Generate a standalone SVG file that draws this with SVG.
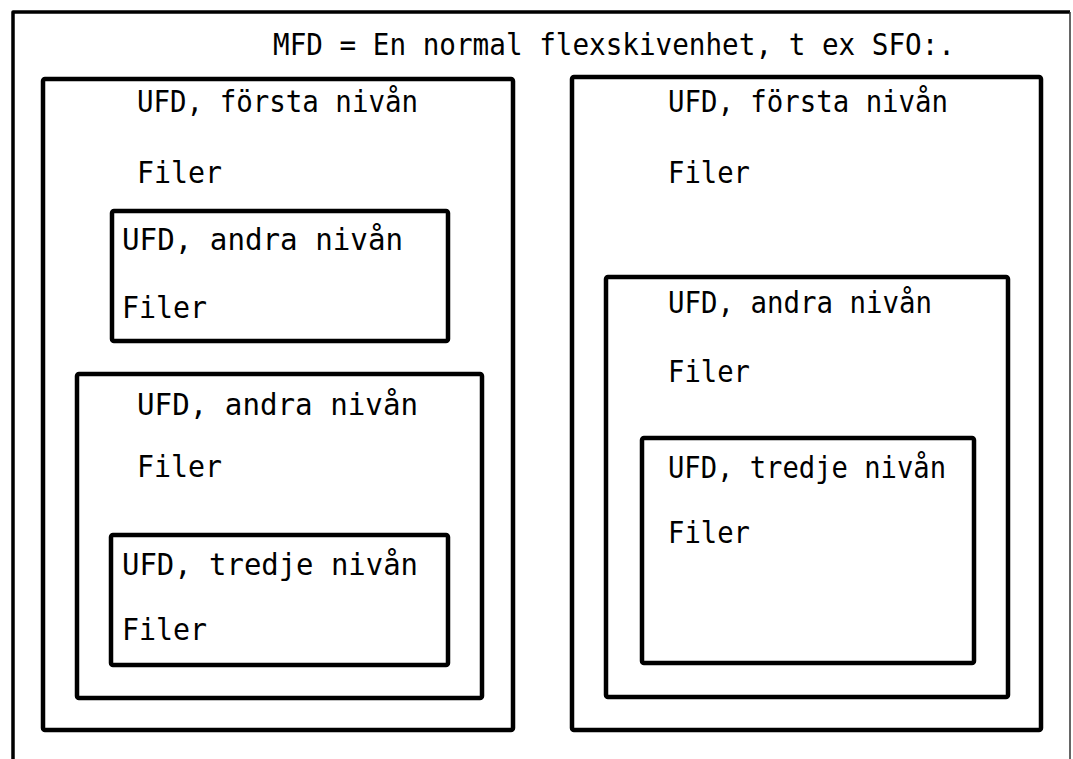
<svg xmlns="http://www.w3.org/2000/svg" width="1073" height="759" viewBox="0 0 1073 759">
  <style>
    .box { fill: none; stroke: #000; stroke-width: 4.5; stroke-linejoin: round; }
    .frame { fill: none; stroke: #000; stroke-width: 3.5; stroke-linejoin: round; }
    .edge { fill: none; stroke: #333; stroke-width: 1.5; }
    text { font-family: "DejaVu Sans Mono", "Liberation Mono", monospace; font-size: 30px; fill: #000; }
  </style>
  <rect width="1073" height="759" fill="#fff"/>

  <!-- outer frame: open at the bottom -->
  <g id="mfd">
    <path class="frame" d="M13,759 V12 H1070"/>
    <path class="edge" d="M1070,12 V759"/>
    <text x="273" y="55" textLength="682" lengthAdjust="spacingAndGlyphs">MFD = En normal flexskivenhet, t ex SFO:.</text>
  </g>

  <!-- left tree -->
  <g id="ufd-l1">
    <rect class="box" x="43" y="79" width="470" height="651" rx="2"/>
    <text x="137" y="112" textLength="281" lengthAdjust="spacingAndGlyphs">UFD, första nivån</text>
    <text x="137" y="183" textLength="85" lengthAdjust="spacingAndGlyphs">Filer</text>
  </g>
  <g id="ufd-l2a">
    <rect class="box" x="112" y="211" width="336" height="130" rx="2"/>
    <text x="122" y="250" textLength="281" lengthAdjust="spacingAndGlyphs">UFD, andra nivån</text>
    <text x="122" y="318" textLength="85" lengthAdjust="spacingAndGlyphs">Filer</text>
  </g>
  <g id="ufd-l2b">
    <rect class="box" x="77" y="374" width="405" height="324" rx="2"/>
    <text x="137" y="415" textLength="281" lengthAdjust="spacingAndGlyphs">UFD, andra nivån</text>
    <text x="137" y="477" textLength="85" lengthAdjust="spacingAndGlyphs">Filer</text>
  </g>
  <g id="ufd-l3">
    <rect class="box" x="111" y="535" width="337" height="130" rx="2"/>
    <text x="122" y="575" textLength="296" lengthAdjust="spacingAndGlyphs">UFD, tredje nivån</text>
    <text x="122" y="640" textLength="85" lengthAdjust="spacingAndGlyphs">Filer</text>
  </g>

  <!-- right tree -->
  <g id="ufd-r1">
    <rect class="box" x="572" y="77" width="469" height="653" rx="2"/>
    <text x="668" y="112" textLength="280" lengthAdjust="spacingAndGlyphs">UFD, första nivån</text>
    <text x="668" y="183" textLength="82" lengthAdjust="spacingAndGlyphs">Filer</text>
  </g>
  <g id="ufd-r2">
    <rect class="box" x="606" y="277" width="402" height="420" rx="2"/>
    <text x="668" y="313" textLength="264" lengthAdjust="spacingAndGlyphs">UFD, andra nivån</text>
    <text x="668" y="382" textLength="82" lengthAdjust="spacingAndGlyphs">Filer</text>
  </g>
  <g id="ufd-r3">
    <rect class="box" x="642" y="438" width="332" height="225" rx="2"/>
    <text x="668" y="478" textLength="278" lengthAdjust="spacingAndGlyphs">UFD, tredje nivån</text>
    <text x="668" y="543" textLength="82" lengthAdjust="spacingAndGlyphs">Filer</text>
  </g>
</svg>
